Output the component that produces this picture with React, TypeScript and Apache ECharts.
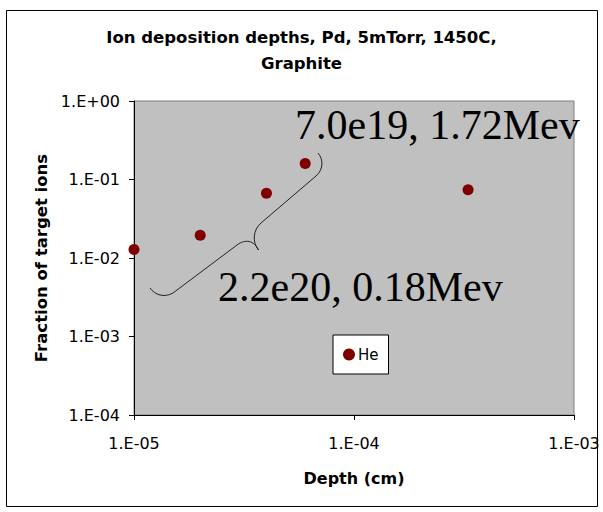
import React, { useEffect, useRef } from "react";
import * as echarts from "echarts";

const titleLines = ["Ion deposition depths, Pd, 5mTorr, 1450C,", "Graphite"];
const seriesName = "He";
const depthCm = [1e-5, 2e-5, 4e-5, 6e-5, 3.3e-4];
const fraction = [0.0128, 0.0195, 0.067, 0.16, 0.074];
const xTickLabels = ["1.E-05", "1.E-04", "1.E-03"];
const yTickLabels = ["1.E-04", "1.E-03", "1.E-02", "1.E-01", "1.E+00"];
const annotationHigh = "7.0e19, 1.72Mev";
const annotationLow = "2.2e20, 0.18Mev";

const BRACE_D =
  "M 150 288 C 155 295, 164 298, 173 293 L 237 245 C 245 239, 254 240, 258.5 250 C 252 242, 253 230, 261 223 L 316 176 C 323 170, 324 160, 318 153";

let registered = false;
function registerBrace() {
  if (registered) return;
  echarts.graphic.registerShape("brace", echarts.graphic.extendPath(BRACE_D, {}) as any);
  registered = true;
}

const fmt = (labels: string[], minExp: number) => (v: number) => {
  const e = Math.round(Math.log10(v));
  return labels[e - minExp] ?? "";
};

const SANS = "'DejaVu Sans', Arial, sans-serif";

export default function App() {
  const ref = useRef<HTMLDivElement>(null);
  useEffect(() => {
    if (!ref.current) return;
    registerBrace();
    const chart = echarts.init(ref.current, undefined, { renderer: "svg" });
    const data = depthCm.map((x, i) => [x, fraction[i]]);
    chart.setOption({
      animation: false,
      backgroundColor: "#ffffff",
      title: {
        text: titleLines.join("\n"),
        left: "center",
        top: 24,
        padding: 0,
        textStyle: {
          fontFamily: SANS,
          fontSize: 16.5,
          fontWeight: "bold",
          lineHeight: 26,
          color: "#000",
        },
      },
      legend: {
        data: [seriesName],
        left: 333,
        top: 335,
        orient: "vertical",
        backgroundColor: "#ffffff",
        borderColor: "#000",
        borderWidth: 1,
        padding: [12, 10],
        itemWidth: 12,
        itemHeight: 12,
        itemGap: 0,
        icon: "circle",
        itemStyle: { opacity: 1 },
        textStyle: {
          fontFamily: SANS,
          fontSize: 15,
          color: "#000",
          padding: [0, 0, 0, -2],
        },
      },
      grid: {
        left: 134,
        top: 101,
        width: 440,
        height: 314,
        show: true,
        backgroundColor: "#C0C0C0",
        borderColor: "#808080",
        borderWidth: 1,
      },
      xAxis: {
        type: "log",
        logBase: 10,
        min: 1e-5,
        max: 1e-3,
        name: "Depth (cm)",
        nameLocation: "middle",
        nameGap: 55,
        nameTextStyle: {
          fontFamily: SANS,
          fontSize: 16,
          fontWeight: "bold",
          color: "#000",
        },
        axisLine: { show: true, lineStyle: { color: "#000", width: 1 } },
        axisTick: { show: true, inside: false, length: 5, lineStyle: { color: "#000" } },
        minorTick: { show: false },
        splitLine: { show: false },
        axisLabel: {
          formatter: fmt(xTickLabels, -5),
          margin: 20,
          fontFamily: SANS,
          fontSize: 16,
          color: "#000",
          showMinLabel: true,
          showMaxLabel: true,
        },
      },
      yAxis: {
        type: "log",
        logBase: 10,
        min: 1e-4,
        max: 1,
        name: "Fraction of target ions",
        nameLocation: "middle",
        nameGap: 84,
        nameTextStyle: {
          fontFamily: SANS,
          fontSize: 16.5,
          fontWeight: "bold",
          color: "#000",
        },
        axisLine: { show: true, lineStyle: { color: "#000", width: 1 } },
        axisTick: { show: true, inside: false, length: 5, lineStyle: { color: "#000" } },
        minorTick: { show: false },
        splitLine: { show: false },
        axisLabel: {
          formatter: fmt(yTickLabels, -4),
          margin: 14,
          fontFamily: SANS,
          fontSize: 16,
          color: "#000",
          showMinLabel: true,
          showMaxLabel: true,
        },
      },
      series: [
        {
          name: seriesName,
          type: "scatter",
          data,
          symbol: "circle",
          symbolSize: 11,
          clip: false,
          itemStyle: { color: "#800000", opacity: 1 },
          emphasis: { disabled: true },
        },
      ],
      graphic: [
        {
          type: "rect",
          shape: { x: 6.5, y: 10.5, width: 591, height: 496 },
          style: { fill: "none", stroke: "#000", lineWidth: 1 },
          silent: true,
          z: 100,
        },
        {
          type: "brace",
          x: 0,
          y: 0,
          style: { fill: "none", stroke: "#222", lineWidth: 1 },
          silent: true,
          z: 100,
        },
        {
          type: "text",
          x: 295,
          y: 125,
          style: {
            text: annotationHigh,
            fontFamily: "'Times New Roman', 'Liberation Serif', serif",
            fontSize: 42,
            fill: "#000",
            verticalAlign: "middle",
            align: "left",
          },
          silent: true,
          z: 100,
        },
        {
          type: "text",
          x: 218,
          y: 287,
          style: {
            text: annotationLow,
            fontFamily: "'Times New Roman', 'Liberation Serif', serif",
            fontSize: 42,
            fill: "#000",
            verticalAlign: "middle",
            align: "left",
          },
          silent: true,
          z: 100,
        },
      ],
    });
    return () => chart.dispose();
  }, []);
  return (
    <div
      ref={ref}
      style={{ position: "fixed", left: 0, top: 0, width: 603, height: 512 }}
    />
  );
}
